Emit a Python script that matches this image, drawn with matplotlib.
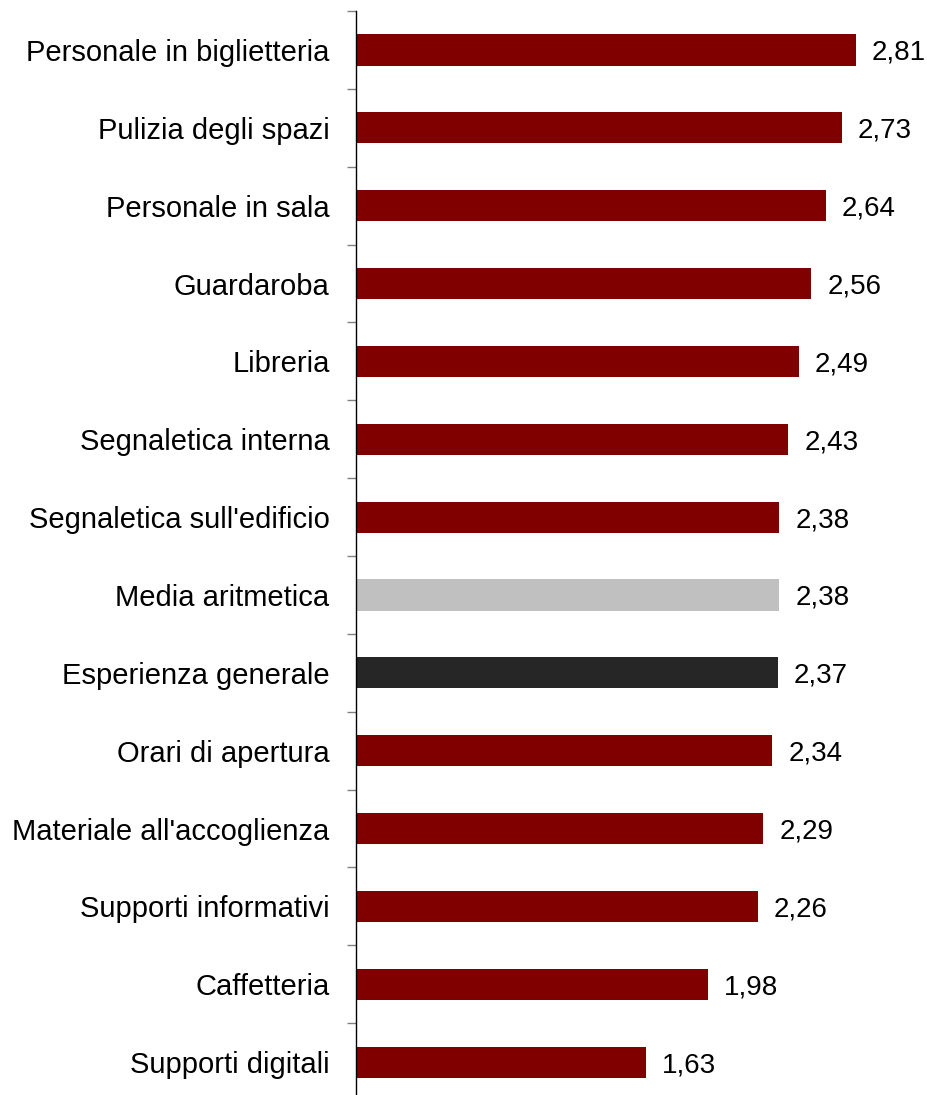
import matplotlib.pyplot as plt
import numpy as np

plt.rcParams["font.family"] = ["Liberation Sans", "DejaVu Sans"]

categories = [
    "Personale in biglietteria", "Pulizia degli spazi", "Personale in sala",
    "Guardaroba", "Libreria", "Segnaletica interna",
    "Segnaletica sull'edificio", "Media aritmetica", "Esperienza generale",
    "Orari di apertura", "Materiale all'accoglienza", "Supporti informativi",
    "Caffetteria", "Supporti digitali",
]
values = [2.81, 2.73, 2.64, 2.56, 2.49, 2.43, 2.38, 2.38, 2.37,
          2.34, 2.29, 2.26, 1.98, 1.63]

colors = ["#800000"] * len(values)
colors[categories.index("Media aritmetica")] = "#C0C0C0"
colors[categories.index("Esperienza generale")] = "#262626"

fig = plt.figure(figsize=(9.28, 10.95), dpi=100)
ax = fig.add_axes([356 / 928, -6 / 1095, 1 - 356 / 928, 1090 / 1095])

y = np.arange(len(values))
ax.barh(y, values, height=0.4, color=colors, edgecolor="none")

for yi, v in zip(y, values):
    ax.text(v + 0.09, yi, f"{v:.2f}".replace(".", ","), va="center_baseline",
            ha="left", fontsize=20, color="black")

ax.set_xlim(0, 3.215)
ax.set_ylim(len(values) - 0.5, -0.5)

ax.set_yticks(y)
ax.set_yticklabels(categories, fontsize=21)
ax.tick_params(axis="y", which="major", length=0, pad=19)
ax.set_yticks(np.arange(len(values) + 1) - 0.5, minor=True)
ax.tick_params(axis="y", which="minor", length=6.5, width=1, color="#808080")

ax.set_xticks([])
for side in ["top", "right", "bottom"]:
    ax.spines[side].set_visible(False)
ax.spines["left"].set_linewidth(1)
ax.spines["left"].set_color("black")

fig.savefig("out.png", dpi=100)
